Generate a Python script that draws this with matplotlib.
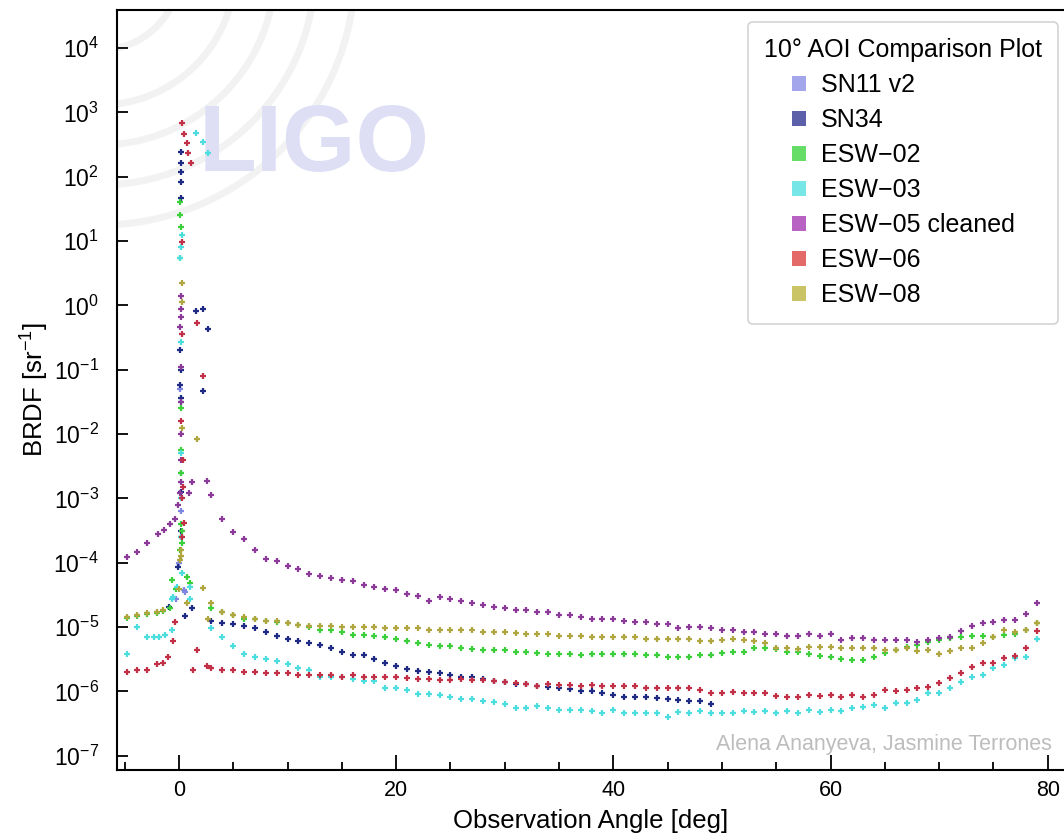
import matplotlib
matplotlib.use("Agg")
import matplotlib.pyplot as plt
import numpy as np
from matplotlib.patches import Patch, Arc
from matplotlib.transforms import IdentityTransform

plt.rcParams['font.family'] = ['Liberation Sans', 'DejaVu Sans']
plt.rcParams['mathtext.fontset'] = 'custom'
plt.rcParams['mathtext.rm'] = 'Liberation Sans'
plt.rcParams['mathtext.it'] = 'Liberation Sans:italic'
plt.rcParams['mathtext.bf'] = 'Liberation Sans:bold'

# ---- data (BRDF values stored as log10) ----
tail_deg = [3, 4, 5, 6, 7, 8, 9, 10, 11, 12,
            13, 14, 15, 16, 17, 18, 19, 20, 21, 22,
            23, 24, 25, 26, 27, 28, 29, 30, 31, 32,
            33, 34, 35, 36, 37, 38, 39, 40, 41, 42,
            43, 44, 45, 46, 47, 48, 49, 50, 51, 52,
            53, 54, 55, 56, 57, 58, 59, 60, 61, 62,
            63, 64, 65, 66, 67, 68, 69, 70, 71, 72,
            73, 74, 75, 76, 77, 78, 79]

esw05_tail = [-2.95, -3.32, -3.52, -3.63, -3.80, -3.94, -3.98, -4.05, -4.09, -4.17,
              -4.20, -4.24, -4.26, -4.29, -4.34, -4.37, -4.40, -4.43, -4.48, -4.51,
              -4.59, -4.53, -4.56, -4.59, -4.62, -4.65, -4.68, -4.70, -4.73, -4.73,
              -4.76, -4.77, -4.81, -4.81, -4.84, -4.87, -4.87, -4.87, -4.90, -4.92,
              -4.92, -4.95, -4.95, -5.02, -5.00, -5.00, -5.02, -5.05, -5.05, -5.08,
              -5.08, -5.10, -5.11, -5.14, -5.14, -5.11, -5.14, -5.11, -5.20, -5.17,
              -5.17, -5.20, -5.20, -5.20, -5.20, -5.23, -5.20, -5.17, -5.15, -5.06,
              -4.98, -4.94, -4.92, -4.89, -4.89, -4.79, -4.63]
esw06_tail = [-5.63, -5.67, -5.67, -5.69, -5.69, -5.71, -5.72, -5.72, -5.74, -5.74,
              -5.74, -5.75, -5.77, -5.75, -5.77, -5.77, -5.78, -5.78, -5.79, -5.81,
              -5.81, -5.82, -5.82, -5.80, -5.82, -5.82, -5.84, -5.86, -5.87, -5.89,
              -5.91, -5.89, -5.90, -5.90, -5.91, -5.90, -5.92, -5.92, -5.92, -5.92,
              -5.94, -5.95, -5.95, -5.95, -5.95, -5.98, -6.02, -6.02, -6.01, -6.02,
              -6.03, -6.02, -6.07, -6.08, -6.08, -6.06, -6.07, -6.06, -6.09, -6.06,
              -6.08, -6.06, -5.98, -6.00, -5.97, -5.95, -5.93, -5.87, -5.79, -5.71,
              -5.62, -5.56, -5.55, -5.48, -5.45, -5.33, -5.06]
esw03_tail = [-5.02, -5.16, -5.30, -5.41, -5.46, -5.49, -5.52, -5.57, -5.63, -5.66,
              -5.77, -5.77, -5.77, -5.80, -5.84, -5.84, -5.94, -5.94, -5.98, -6.04,
              -6.04, -6.06, -6.09, -6.12, -6.12, -6.15, -6.17, -6.20, -6.25, -6.25,
              -6.23, -6.25, -6.28, -6.28, -6.29, -6.31, -6.33, -6.29, -6.33, -6.33,
              -6.33, -6.33, -6.39, -6.32, -6.33, -6.31, -6.33, -6.33, -6.34, -6.31,
              -6.32, -6.31, -6.33, -6.30, -6.34, -6.29, -6.32, -6.29, -6.30, -6.26,
              -6.24, -6.21, -6.26, -6.18, -6.18, -6.13, -6.03, -6.03, -5.95, -5.85,
              -5.78, -5.75, -5.64, -5.59, -5.48, -5.46, -5.19]
esw02_tail = [-4.70, -4.76, -4.81, -4.88, -4.88, -4.90, -4.92, -4.94, -4.97, -5.00,
              -5.04, -5.05, -5.07, -5.12, -5.12, -5.13, -5.16, -5.19, -5.21, -5.24,
              -5.27, -5.30, -5.30, -5.33, -5.34, -5.35, -5.35, -5.35, -5.38, -5.38,
              -5.40, -5.41, -5.41, -5.41, -5.44, -5.42, -5.41, -5.41, -5.41, -5.42,
              -5.44, -5.44, -5.47, -5.47, -5.47, -5.44, -5.44, -5.40, -5.38, -5.38,
              -5.33, -5.33, -5.34, -5.38, -5.38, -5.42, -5.45, -5.47, -5.50, -5.51,
              -5.51, -5.47, -5.40, -5.36, -5.31, -5.28, -5.23, -5.20, -5.17, -5.15,
              -5.14, -5.14, -5.15, -5.12, -5.11, -5.05, -4.94]
esw08_tail = [-4.62, -4.76, -4.81, -4.84, -4.87, -4.90, -4.91, -4.93, -4.96, -4.99,
              -4.99, -4.99, -5.00, -5.00, -5.00, -5.00, -5.02, -5.02, -5.02, -5.02,
              -5.05, -5.04, -5.05, -5.05, -5.05, -5.07, -5.07, -5.07, -5.09, -5.10,
              -5.10, -5.10, -5.13, -5.13, -5.14, -5.16, -5.16, -5.16, -5.16, -5.16,
              -5.18, -5.18, -5.18, -5.19, -5.18, -5.21, -5.22, -5.20, -5.19, -5.20,
              -5.21, -5.25, -5.33, -5.33, -5.34, -5.31, -5.31, -5.31, -5.33, -5.33,
              -5.33, -5.33, -5.36, -5.36, -5.33, -5.37, -5.36, -5.41, -5.37, -5.33,
              -5.33, -5.25, -5.15, -5.05, -5.07, -5.05, -4.94]
sn34_tail_deg = [3, 4, 5, 6, 7, 8, 9, 10, 11, 12,
                 13, 14, 15, 16, 17, 18, 19, 20, 21, 22,
                 23, 24, 25, 26, 27, 28, 29, 30, 31, 32,
                 33, 34, 35, 36, 37, 38, 39, 40, 41, 42,
                 43, 44, 45, 46, 47, 48, 49]
sn34_tail = [-4.91, -4.93, -4.95, -4.99, -5.02, -5.07, -5.13, -5.19, -5.21, -5.24,
             -5.27, -5.33, -5.38, -5.43, -5.43, -5.49, -5.55, -5.60, -5.65, -5.68,
             -5.69, -5.71, -5.74, -5.78, -5.78, -5.80, -5.84, -5.85, -5.88, -5.89,
             -5.92, -5.93, -5.95, -5.96, -6.00, -6.00, -6.03, -6.05, -6.09, -6.09,
             -6.08, -6.10, -6.12, -6.13, -6.15, -6.15, -6.19]

# points around the specular peak and at negative angles
esw05_near_deg = [-4.8, -3.9, -2.9, -1.9, -1.4, -0.8, -0.4, -0.1, 0.1, 0.2, 0.9, 1.2, 2.6,
                  0.2, 0.2, 0.2, 0.1, 0.2, 0.2, 0.2, 0.2]
esw05_near = [-3.91, -3.83, -3.69, -3.56, -3.49, -3.39, -3.32, -3.10, -2.92, -2.75, -2.92, -2.75, -2.73,
              0.14, -0.05, -0.18, -0.34, -0.95, -1.5, -2.0, -2.4]
esw06_near_deg = [-4.8, -3.9, -2.9, -2.0, -1.5, -1.0, -0.5, -0.4, 0.3, 0.5, 0.7, 0.8, 1.1,
                  0.3, 0.3, 1.7, 2.2, 0.4, 0.4, 0.5, 0.3, 0.2, 0.3, 1.3, 1.7, 2.6]
esw06_near = [-5.69, -5.67, -5.67, -5.58, -5.55, -5.47, -5.21, -4.92, 2.84, 2.67, 2.53, 2.37, 2.22,
              0.98, -0.45, -0.28, -1.10, -2.40, -2.82, -3.38, -3.60, -1.80, -3.00, -5.66, -5.36, -5.60]
esw03_near_deg = [-4.8, -3.9, -2.9, -2.3, -1.8, -1.3, -0.6, -0.6, -0.5, -0.2, 0.3, 1.0, 1.0,
                  0.3, 0.2, 0.1, 0.2, 0.2, 0.2, 0.2, 0.2, 1.6, 2.2, 2.7]
esw03_near = [-5.41, -5.00, -5.16, -5.16, -5.15, -5.12, -5.04, -4.57, -4.53, -4.38, -4.16, -4.38, -4.57,
              1.09, 0.90, 0.73, -0.57, -1.50, -2.30, -3.00, -3.60, 2.68, 2.54, 2.37]
esw02_near_deg = [-4.8, -3.9, -2.9, -2.0, -1.5, -0.8, -0.6, 0.7, 1.0, -0.3,
                  0.1, 0.1, 0.2, 0.1, 0.2, 0.2, 0.2, 0.2, 0.2, 0.1, 0.3, 0.3]
esw02_near = [-4.86, -4.83, -4.80, -4.78, -4.75, -4.70, -4.26, -4.22, -4.31, -4.40,
              1.60, 1.40, 1.22, 0.73, -1.60, -2.25, -2.60, -3.40, -3.60, -3.80, -3.50, -3.70]
esw08_near_deg = [-4.8, -3.9, -2.9, -2.0, -1.5, 0.3, 0.3, 0.3, 1.7, 0.2, 0.2, 0.1, 0.7, 0.0, 2.2, 2.7]
esw08_near = [-4.84, -4.81, -4.78, -4.76, -4.73, 0.34, 0.06, -1.90, -2.07, -3.90, -3.80, -3.95,
              -4.63, -4.40, -4.39, -4.87]
sn34_near_deg = [-0.9, -0.1, 1.2, 0.6, 0.2, 0.2, 0.2, 0.2, 0.2, 1.6, 2.2, 2.7,
                 0.1, 0.2, 2.2, 0.1, 0.2, 0.2, 0.2]
sn34_near = [-4.68, -4.07, -4.71, -4.83, 2.39, 2.22, 2.08, 1.91, 1.67, -0.08, -0.06, -0.36,
             -0.70, -1.00, -1.33, -1.24, -1.44, -2.90, -3.50]
sn11_deg = [0.5, -0.3, 0.0, 0.2, 0.2, 0.1, 0.6]
sn11 = [-4.42, -4.57, -4.00, -2.60, -3.20, -1.30, -4.45]

labels = ['SN11 v2', 'SN34', 'ESW\u221202', 'ESW\u221203', 'ESW\u221205 cleaned',
          'ESW\u221206', 'ESW\u221208']
point_colors = ['#7f86e0', '#1f2a85', '#3ccf3c', '#4cdede', '#8c3a9a', '#c23048', '#b0a640']
legend_colors = ['#a3a6ea', '#5c60a8', '#66dd66', '#77e6e6', '#b862c4', '#e46a6a', '#cac466']

series = [
    (sn11_deg, sn11),
    (sn34_near_deg + sn34_tail_deg, sn34_near + sn34_tail),
    (esw02_near_deg + tail_deg, esw02_near + esw02_tail),
    (esw03_near_deg + tail_deg, esw03_near + esw03_tail),
    (esw05_near_deg + tail_deg, esw05_near + esw05_tail),
    (esw06_near_deg + tail_deg, esw06_near + esw06_tail),
    (esw08_near_deg + tail_deg, esw08_near + esw08_tail),
]

fig = plt.figure(figsize=(10.64, 8.4), dpi=100)
ax = fig.add_axes([117 / 1064, 70 / 840, 947 / 1064, 760 / 840])

# LIGO watermark
for r in [80, 135, 175, 215, 255]:
    arc = Arc((100, 870), 2 * r, 2 * r, theta1=270, theta2=360,
              transform=IdentityTransform(), color='#f2f2f2', lw=5, zorder=0)
    ax.add_patch(arc)
    arc.set_clip_path(ax.patch)
ax.text(0.208, 0.820, 'LIGO', transform=ax.transAxes, fontsize=68, fontweight='bold',
        color='#dedff5', ha='center', va='center', zorder=0)

for (deg, lg), c in zip(series, point_colors):
    ax.scatter(deg, 10 ** np.array(lg), marker='+', s=20, linewidths=1.6, color=c, zorder=3)

ax.set_yscale('log')
ax.set_xlim(-5.7, 81.5)
ax.set_ylim(10 ** -7.22, 10 ** 4.59)
ax.set_xticks([0, 20, 40, 60, 80])
ax.set_xticks(np.arange(-5, 81, 5), minor=True)
ax.set_yticks([10.0 ** k for k in range(-7, 5)])
ax.tick_params(which='both', direction='in', width=1.3, labelsize=15.5)
ax.tick_params(axis='y', which='major', labelsize=16.5)
ax.tick_params(axis='x', which='major', length=11, pad=7)
ax.tick_params(axis='x', which='minor', length=6)
ax.tick_params(axis='y', which='major', length=8, pad=13)
ax.tick_params(axis='y', which='minor', length=6)
for s in ['left', 'bottom', 'top']:
    ax.spines[s].set_linewidth(1.5)
ax.spines['right'].set_visible(False)

ax.set_xlabel('Observation Angle [deg]', fontsize=18.5, labelpad=6)
ax.set_ylabel('BRDF [sr$^{-1}$]', fontsize=18.5, labelpad=2)

ax.text(0.987, 0.033, 'Alena Ananyeva, Jasmine Terrones', transform=ax.transAxes,
        fontsize=15.5, color='#bdbdbd', ha='right', va='center')

handles = [Patch(facecolor=c, edgecolor='none') for c in legend_colors]
leg = ax.legend(handles, labels, title='10\u00b0 AOI Comparison Plot', loc='upper right',
                bbox_to_anchor=(0.994, 0.984), borderaxespad=0, fontsize=18,
                title_fontsize=18, handlelength=0.55, handleheight=0.55, handletextpad=0.6,
                labelspacing=0.44, borderpad=0.65, fancybox=True, framealpha=1,
                edgecolor='#d4d4d4')
leg.get_frame().set_linewidth(1.2)

fig.savefig('out.png', dpi=100)
